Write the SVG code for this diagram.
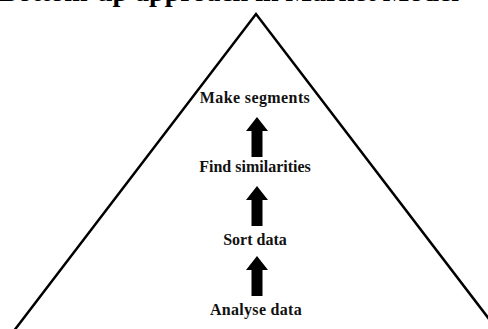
<svg xmlns="http://www.w3.org/2000/svg" width="488" height="329" viewBox="0 0 488 329">
  <style>
    .title { font-family: "Liberation Serif", "Times New Roman", serif; font-weight: bold; font-size: 28px; fill: #000; }
    .label { font-family: "Liberation Serif", "Times New Roman", serif; font-weight: bold; font-size: 16px; fill: #111; text-anchor: middle; }
    .pyramid { fill: none; stroke: #000; stroke-width: 2.5; stroke-linejoin: miter; }
    .arrow { fill: #000; }
  </style>
  <defs>
    <polygon id="blockArrow" class="arrow" points="0,0 11,14 5.5,14 5.5,40 -5.5,40 -5.5,14 -11,14"/>
  </defs>
  <rect width="488" height="329" fill="#fff"/>
  <text class="title" x="-1" y="0.5">Bottom-up approach in Market Model</text>
  <polyline class="pyramid" points="10,336 256,14 502,336"/>
  <g id="connectors">
    <use href="#blockArrow" x="257" y="117"/>
    <use href="#blockArrow" x="257" y="186"/>
    <use href="#blockArrow" x="257" y="256"/>
  </g>
  <g id="node-make-segments"><text class="label" x="255" y="103" letter-spacing="0.4">Make segments</text></g>
  <g id="node-find-similarities"><text class="label" x="255" y="172">Find similarities</text></g>
  <g id="node-sort-data"><text class="label" x="255" y="245">Sort data</text></g>
  <g id="node-analyse-data"><text class="label" x="256" y="315" letter-spacing="0.3">Analyse data</text></g>
</svg>
